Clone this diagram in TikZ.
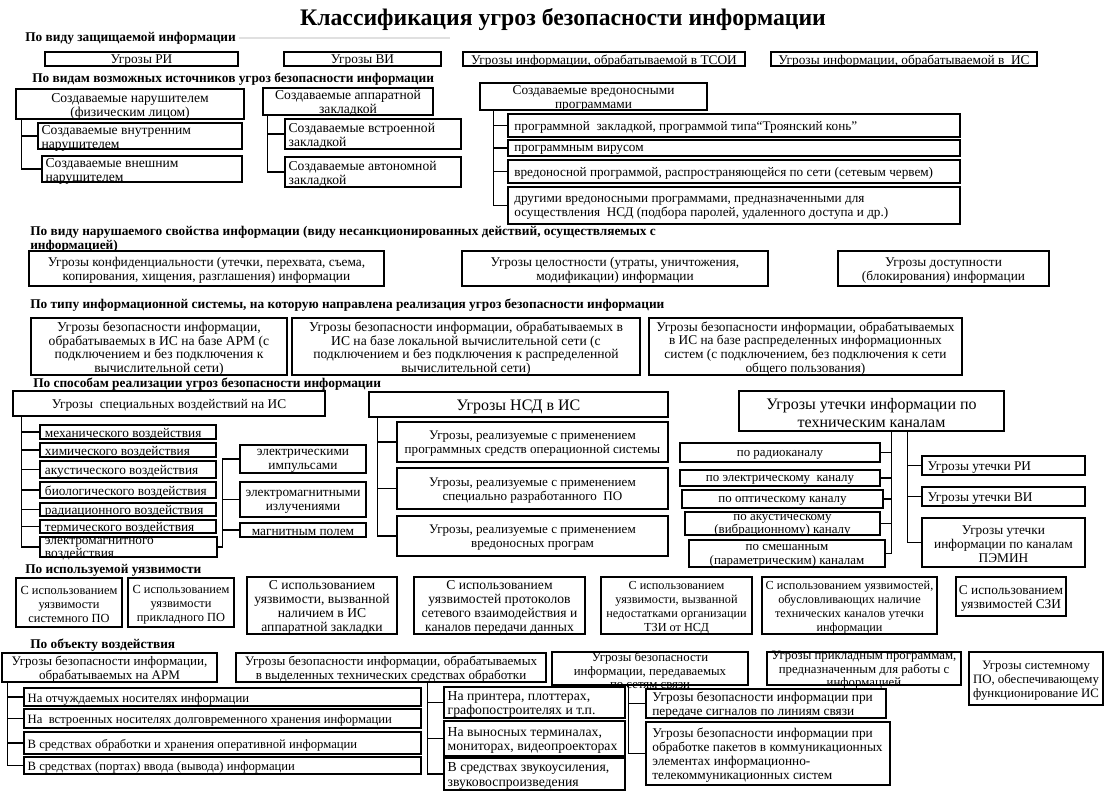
\documentclass[tikz,border=0pt]{standalone}
\usepackage{fontspec}
\setmainfont{Liberation Serif}
\newcommand\fs[2]{\fontsize{#1}{#2}\selectfont}
\tikzset{
  frame/.style={draw, line width=0.9pt, inner sep=0pt},
  tx/.style={inner sep=0pt, align=center, font=\fs{10}{10.5}, yshift=-1.5pt},
  hd/.style={anchor=west, inner sep=0pt, font=\bfseries\fs{10}{10.5}, align=left},
  ln/.style={line width=0.9pt},
}
\newcommand\bxe[5]{%
  \pgfmathsetmacro\bxw{(#4-#2)*0.75}%
  \pgfmathsetmacro\bxh{(#5-#3)*0.75}%
  \node[frame, minimum width=\bxw pt, minimum height=\bxh pt] (#1) at ({(#2+#4)/2},{(#3+#5)/2}) {};}
\newcommand\bx[7][]{\bxe{#2}{#3}{#4}{#5}{#6}\node[tx,#1] (#2t) at (#2.center) {#7};}
\newcommand\bxl[7][]{\bxe{#2}{#3}{#4}{#5}{#6}\node[tx,align=left,anchor=west,#1] (#2t) at ([xshift=3pt]#2.west) {#7};}
\begin{document}
\begin{tikzpicture}[x=0.75pt,y=-0.75pt]
\fill[white] (0,0) rectangle (1104,791);
\useasboundingbox (0,0) rectangle (1104,791);
\node[font=\bfseries\fs{17.8}{20}, inner sep=0pt] (title) at (563,20) {Классификация угроз безопасности информации};
% 1
\node[hd] (h1) at (25,38) {По виду защищаемой информации};
\coordinate (g1) at (450,38);
\draw[black!12, line width=1.2pt] (h1.east) ++(3,0) -- (g1);
\bx{ri}{45}{52}{238}{66}{Угрозы РИ}
\bx{vi}{284}{52}{441}{66}{Угрозы ВИ}
\bx{tsoi}{463}{52}{745}{66}{Угрозы информации, обрабатываемой в ТСОИ}
\bx{is}{771}{52}{1037}{66}{Угрозы информации, обрабатываемой в~ ИС}
% 2
\node[hd] (h2) at (32,79) {По видам возможных источников угроз безопасности информации};
\bx[font=\fs{10.2}{10.5}]{a}{16}{89}{244}{119}{Создаваемые нарушителем\\(физическим лицом)}
\bxl[font=\fs{10.2}{10.5}]{a1}{38}{123}{242}{149}{Создаваемые внутренним\\нарушителем}
\bxl[font=\fs{10.2}{10.5}]{a2}{42}{156}{242}{182}{Создаваемые внешним\\нарушителем}
\draw[ln] (a.south west) ++(6,0) |- (a1.west);
\draw[ln] (a.south west) ++(6,0) |- (a2.west);
\bx[font=\fs{10.2}{10.5}]{b}{263}{88}{433}{115}{Создаваемые аппаратной\\закладкой}
\bxl[font=\fs{10.2}{10.5}]{b1}{285}{119}{461}{149}{Создаваемые встроенной\\закладкой}
\bxl[font=\fs{10.2}{10.5}]{b2}{285}{157}{461}{187}{Создаваемые автономной\\закладкой}
\draw[ln] (b.south west) ++(5,0) |- (b1.west);
\draw[ln] (b.south west) ++(5,0) |- (b2.west);
\bx{c}{480}{83}{707}{110}{Создаваемые вредоносными\\программами}
\bxl[font=\fs{9.9}{10.5},xshift=2pt]{c1}{508}{114}{960}{137}{программной~ закладкой, программой типа“Троянский конь”}
\bxl[font=\fs{9.9}{10.5},xshift=2pt]{c2}{508}{140}{960}{156}{программным вирусом}
\bxl[font=\fs{9.9}{10.5},xshift=2pt]{c3}{508}{160}{960}{183}{вредоносной программой, распространяющейся по сети (сетевым червем)}
\bxl[font=\fs{9.9}{10.5},xshift=2pt]{c4}{508}{187}{960}{224}{другими вредоносными программами, предназначенными для\\осуществления~ НСД (подбора паролей, удаленного доступа и др.)}
\foreach \k in {c1,c2,c3,c4} \draw[ln] (c.south west) ++(14,0) |- (\k.west);
% 3
\node[hd] (h3) at (30,239.5) {По виду нарушаемого свойства информации (виду несанкционированных действий, осуществляемых с\\информацией)};
\bx{p1}{29}{251}{384}{286}{Угрозы конфиденциальности (утечки, перехвата, съема,\\копирования, хищения, разглашения) информации}
\bx{p2}{462}{251}{768}{286}{Угрозы целостности (утраты, уничтожения,\\модификации) информации}
\bx{p3}{838}{251}{1049}{286}{Угрозы доступности\\(блокирования) информации}
% 4
\node[hd] (h4) at (30,305) {По типу информационной системы, на которую направлена реализация угроз безопасности информации};
\bx[font=\fs{10.2}{10.3}]{t1}{31}{318}{287}{375}{Угрозы безопасности информации,\\обрабатываемых в ИС на базе АРМ (с\\подключением и без подключения к\\вычислительной сети)}
\bx[font=\fs{10.2}{10.3}]{t2}{292}{318}{640}{375}{Угрозы безопасности информации, обрабатываемых в\\ИС на базе локальной вычислительной сети (с\\подключением и без подключения к распределенной\\вычислительной сети)}
\bx[font=\fs{10}{10.3}]{t3}{649}{318}{962}{375}{Угрозы безопасности информации, обрабатываемых\\в ИС на базе распределенных информационных\\систем (с подключением, без подключения к сети\\общего пользования)}
% 5
\node[hd] (h5) at (33,384) {По способам реализации угроз безопасности информации};
\bx{s}{13}{391}{325}{416}{Угрозы~ специальных воздействий на ИС}
\bxl[xshift=1pt]{s1}{40}{425}{216}{439}{механического воздействия}
\bxl[xshift=1pt]{s2}{40}{443}{216}{457}{химического воздействия}
\bxl[xshift=1pt]{s3}{40}{461}{216}{478}{акустического воздействия}
\bxl[xshift=1pt]{s4}{40}{482}{216}{498}{биологического воздействия}
\bxl[xshift=1pt]{s5}{40}{503}{216}{516}{радиационного воздействия}
\bxl[xshift=1pt]{s6}{40}{520}{216}{533}{термического воздействия}
\bxl[xshift=1pt,font=\fs{10}{9.5}]{s7}{40}{537}{217}{557}{электромагнитного\\воздействия}
\foreach \k in {s1,s2,s3,s4,s5,s6,s7} \draw[ln] (s.south west) ++(9,0) |- (\k.west);
\bx{e1}{240}{445}{366}{473}{электрическими\\импульсами}
\bx{e2}{240}{482}{366}{517}{электромагнитными\\излучениями}
\bx{e3}{240}{523}{366}{537}{магнитным полем}
\draw[ln] (s7.east) -- ++(5,0) coordinate (j) |- (e1.west);
\draw[ln] (j) |- (e2.west);
\draw[ln] (j) |- (e3.west);
\bx[font=\fs{12}{13}]{nsd}{369}{392}{668}{417}{Угрозы НСД в ИС}
\bx[font=\fs{9.8}{10.5}]{n1}{397}{422}{668}{462}{Угрозы, реализуемые с применением\\программных средств операционной системы}
\bx[font=\fs{9.8}{10.5}]{n2}{397}{468}{668}{509}{Угрозы, реализуемые с применением\\специально разработанного~ ПО}
\bx[font=\fs{9.8}{10.5}]{n3}{397}{516}{668}{556}{Угрозы, реализуемые с применением\\вредоносных програм}
\foreach \k in {n1,n2,n3} \draw[ln] (nsd.south west) ++(9,0) |- (\k.west);
\bx[font=\fs{12}{13}]{lk}{739}{391}{1004}{431}{Угрозы утечки информации по\\техническим каналам}
\bx[font=\fs{9.7}{10}]{l1}{680}{443}{880}{462}{по радиоканалу}
\bx[font=\fs{9.7}{10}]{l2}{680}{470}{880}{486}{по электрическому~ каналу}
\bx[font=\fs{9.7}{10}]{l3}{682}{490}{883}{508}{по оптическому каналу}
\bx[font=\fs{9.7}{10}]{l4}{685}{512}{880}{535}{по акустическому\\(вибрационному) каналу}
\bx[font=\fs{9.7}{10.3}]{l5}{689}{540}{885}{567}{по смешанным\\(параметрическим) каналам}
\foreach \k in {l1,l2,l3,l4,l5} \draw[ln] (lk.south west) ++(153,0) |- (\k.east);
\bxl[xshift=1.5pt]{r1}{922}{456}{1085}{475}{Угрозы утечки РИ}
\bxl[xshift=1.5pt]{r2}{922}{487}{1085}{506}{Угрозы утечки ВИ}
\bx{r3}{922}{518}{1085}{567}{Угрозы утечки\\информации по каналам\\ПЭМИН}
\foreach \k in {r1,r2,r3} \draw[ln] (lk.south west) ++(169,0) |- (\k.west);
% 6
\node[hd] (h6) at (25,570) {По используемой уязвимости};
\bx[font=\fs{9.3}{10.5}]{v1}{16}{578}{122}{627}{С использованием\\уязвимости\\системного ПО}
\bx[font=\fs{9.3}{10.5}]{v2}{128}{578}{234}{627}{С использованием\\уязвимости\\прикладного ПО}
\bx[font=\fs{10.2}{10.5}]{v3}{247}{577}{397}{634}{С использованием\\уязвимости, вызванной\\наличием в ИС\\аппаратной закладки}
\bx[font=\fs{10.2}{10.5}]{v4}{414}{577}{585}{634}{С использованием\\уязвимостей протоколов\\сетевого взаимодействия и\\каналов передачи данных}
\bx[font=\fs{9.2}{10.5}]{v5}{601}{577}{752}{634}{С использованием\\уязвимости, вызванной\\недостатками организации\\ТЗИ от НСД}
\bx[font=\fs{9.2}{10.5}]{v6}{762}{577}{937}{634}{С использованием уязвимостей,\\обусловливающих наличие\\технических каналов утечки\\информации}
\bx{v7}{956}{577}{1066}{616}{С использованием\\уязвимостей СЗИ}
% 7
\node[hd] (h7) at (30,645) {По объекту воздействия};
\bx[font=\fs{9.8}{10.5}]{o1}{2}{653}{217}{682}{Угрозы безопасности информации,\\обрабатываемых на АРМ}
\bxl[font=\fs{9.5}{10.5}]{o11}{24}{688}{421}{706}{На отчуждаемых носителях информации}
\bxl[font=\fs{9.5}{10.5}]{o12}{24}{709}{421}{728}{На~ встроенных носителях долговременного хранения информации}
\bxl[font=\fs{9.5}{10.5}]{o13}{24}{732}{421}{754}{В средствах обработки и хранения оперативной информации}
\bxl[font=\fs{9.5}{10.5}]{o14}{24}{757}{421}{774}{В средствах (портах) ввода (вывода) информации}
\foreach \k in {o11,o12,o13,o14} \draw[ln] (o1.south west) ++(6,0) |- (\k.west);
\bx[font=\fs{9.8}{10.5}]{o2}{236}{653}{546}{682}{Угрозы безопасности информации, обрабатываемых\\в выделенных технических средствах обработки}
\bxl[font=\fs{10.3}{10.8}]{o21}{444}{687}{625}{718}{На принтера, плоттерах,\\графопостроителях и т.п.}
\bxl[font=\fs{10.3}{10.8}]{o22}{444}{721}{625}{756}{На выносных терминалах,\\мониторах, видеопроекторах}
\bxl[font=\fs{10.3}{10.8}]{o23}{444}{758}{625}{790}{В средствах звукоусиления,\\звуковоспроизведения}
\foreach \k in {o21,o22,o23} \draw[ln] (o2.south west) ++(192,0) |- (\k.west);
\bx[font=\fs{9.6}{10}]{o3}{552}{652}{748}{685}{Угрозы безопасности\\информации, передаваемых\\по сетям связи}
\bxl[font=\fs{10}{10.5},xshift=2pt]{o31}{646}{689}{886}{718}{Угрозы безопасности информации при\\передаче сигналов по линиям связи}
\bxl[font=\fs{10}{10.5},xshift=2pt]{o32}{646}{722}{890}{785}{Угрозы безопасности информации при\\обработке пакетов в коммуникационных\\элементах информационно-\\телекоммуникационных систем}
\foreach \k in {o31,o32} \draw[ln] (o3.south west) ++(77,0) |- (\k.west);
\bx[font=\fs{9.6}{10}]{o4}{767}{652}{961}{685}{Угрозы прикладным программам,\\предназначенным для работы с\\информацией}
\bx[font=\fs{9.6}{10.5}]{o5}{969}{652}{1103}{705}{Угрозы системному\\ПО, обеспечивающему\\функционирование ИС}
\end{tikzpicture}
\end{document}
